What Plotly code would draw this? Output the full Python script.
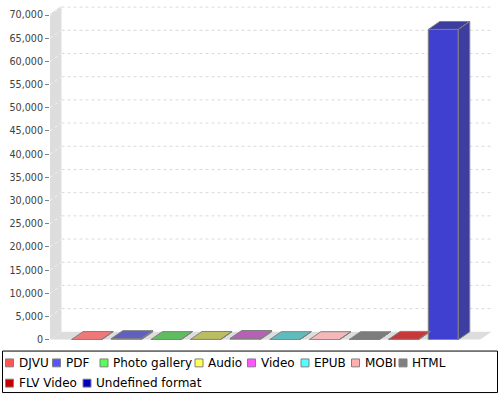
import plotly.graph_objects as go

# ---------------- data ----------------
categories = ["DJVU", "PDF", "Photo gallery", "Audio", "Video", "EPUB",
              "MOBI", "HTML", "FLV Video", "Undefined format"]
values = [60, 250, 40, 70, 280, 30, 20, 10, 90, 66900]
y_ticks = list(range(0, 70001, 5000))

# ---------------- styles ----------------
series_colors = ["#FF5555", "#5555FF", "#55FF55", "#FFFF55", "#FF55FF",
                 "#55FFFF", "#FFAFAF", "#808080", "#C00000", "#0000C0"]
face_colors = ["#F07878", "#6060C0", "#60BC60", "#BCBC60", "#B85FB8",
               "#60BCBC", "#F4B8B8", "#7C7C7C", "#C83838", "#3E3EA0"]
FONT = "DejaVu Sans"

W, H = 500, 400
px_left, px_right_front = 50, 480
depth_x, depth_y = 11.5, 8
px_zero, px_top = 344, 6
px_per_val = 4.697 / 1000
first_center, spacing, bar_px = 86.7, 39.62, 30


def blend(hexc, a=0.75):
    r, g, b = (int(hexc[i:i + 2], 16) for i in (1, 3, 5))
    f = lambda c: round(c * a + 255 * (1 - a))
    return f"rgb({f(r)},{f(g)},{f(b)})"


def xu(p):
    return (p - first_center) / spacing


x0 = xu(px_left)
x1 = xu(px_right_front)
dx = depth_x / spacing
dy = depth_y / px_per_val
bw = bar_px / spacing
ymax = (px_zero - px_top) / px_per_val

fig = go.Figure()

# bars: front faces
for i, (name, v) in enumerate(zip(categories, values)):
    fig.add_trace(go.Bar(
        x=[i], y=[v], width=bw, name=name, showlegend=False,
        marker=dict(color=blend(series_colors[i]),
                    line=dict(color="#808080", width=1)),
        hoverinfo="skip"))

# bars: top and side faces (3D effect) derived from values
for i, v in enumerate(values):
    l, r = i - bw / 2, i + bw / 2
    fig.add_trace(go.Scatter(
        x=[l, r, r + dx, l + dx, l], y=[v, v, v + dy, v + dy, v],
        mode="lines", fill="toself", fillcolor=face_colors[i],
        line=dict(color="#808080", width=1), showlegend=False, hoverinfo="skip"))
    if v > 0:
        fig.add_trace(go.Scatter(
            x=[r, r + dx, r + dx, r, r], y=[0, dy, v + dy, v, 0],
            mode="lines", fill="toself", fillcolor=face_colors[i],
            line=dict(color="#808080", width=1), showlegend=False, hoverinfo="skip"))

shapes = []
# left wall
shapes.append(dict(type="path", xref="x", yref="y", layer="below",
                   path=f"M {x0},0 L {x0+dx},{dy} L {x0+dx},{ymax} L {x0},{ymax-dy} Z",
                   fillcolor="#DDDDDD", line=dict(width=0)))
# floor
shapes.append(dict(type="path", xref="x", yref="y", layer="below",
                   path=f"M {x0},0 L {x1},0 L {x1+dx},{dy} L {x0+dx},{dy} Z",
                   fillcolor="#DDDDDD", line=dict(width=0)))
# gridlines
for v in y_ticks[1:]:
    shapes.append(dict(type="line", xref="x", yref="y", layer="below",
                       x0=x0 + dx, x1=x1 + dx, y0=v + dy, y1=v + dy,
                       line=dict(color="#DADADA", width=1, dash="3px,3px")))
    shapes.append(dict(type="line", xref="x", yref="y", layer="below",
                       x0=x0, x1=x0 + dx, y0=v, y1=v + dy,
                       line=dict(color="#F2F2F2", width=1, dash="3px,3px")))

# legend box
def py(y):
    return 1 - y / H

def pxp(x):
    return x / W

shapes.append(dict(type="rect", xref="paper", yref="paper",
                   x0=pxp(2.5), x1=pxp(497.5), y0=py(355.5), y1=py(397.5),
                   line=dict(color="black", width=1), fillcolor="rgba(0,0,0,0)"))

legend_pos = [(5.5, 367.5), (52.5, 367.5), (100, 367.5), (195, 367.5),
              (247.5, 367.5), (301, 367.5), (351.5, 367.5), (399, 367.5),
              (5.5, 388), (83, 388)]
annotations = []
for i, name in enumerate(categories):
    sx, sy = legend_pos[i]
    shapes.append(dict(type="rect", xref="paper", yref="paper",
                       x0=pxp(sx), x1=pxp(sx + 8), y0=py(sy + 4), y1=py(sy - 4),
                       fillcolor=series_colors[i], line=dict(color="#808080", width=1)))
    annotations.append(dict(x=pxp(sx + 11), y=py(sy), xref="paper", yref="paper",
                            text=name, showarrow=False, xanchor="left",
                            yanchor="middle", font=dict(family=FONT, size=12, color="black")))

fig.update_layout(
    width=W, height=H, margin=dict(l=0, r=0, t=0, b=0),
    paper_bgcolor="white", plot_bgcolor="white",
    barmode="overlay", showlegend=False,
    shapes=shapes, annotations=annotations,
    xaxis=dict(domain=[px_left / W, (px_right_front + depth_x) / W],
               range=[x0, x1 + dx], visible=False, fixedrange=True),
    yaxis=dict(domain=[1 - px_zero / H, 1 - px_top / H], range=[0, ymax],
               tickvals=y_ticks, tickformat=",", ticks="outside", ticklen=4,
               tickcolor="#808080", showgrid=False, zeroline=False, showline=False,
               tickfont=dict(family=FONT, size=9.6, color="#404040"), fixedrange=True),
)

fig.write_html("out.html", config={"displayModeBar": False},
               post_script="document.body.style.margin='0';document.body.style.overflow='hidden';")
